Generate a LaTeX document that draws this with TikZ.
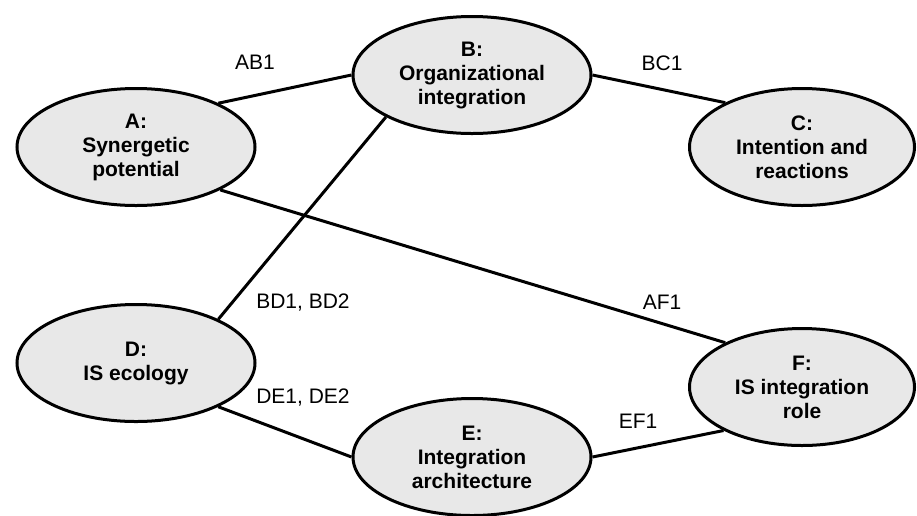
\documentclass[tikz,border=0pt]{standalone}
\usepackage{fontspec}
\setmainfont{Liberation Sans}
\usetikzlibrary{shapes.geometric}
\definecolor{nodefill}{HTML}{E8E8E8}
\begin{document}
\begin{tikzpicture}[x=1pt,y=-1pt,
  bub/.style={ellipse, draw=black, line width=3pt, fill=nodefill,
    minimum width=238pt, minimum height=117pt, inner sep=0pt, align=center,
    font=\fontsize{21}{24}\selectfont\bfseries},
  bubn/.style={bub, minimum width=225pt},
  link/.style={line width=3pt},
  lab/.style={font=\fontsize{21}{24}\selectfont, inner sep=0pt}]
\useasboundingbox (0,0) rectangle (917,515);
\node[bub]  (A) at (136,147) {A:\\Synergetic\\potential};
\node[bub]  (B) at (472,75)  {B:\\Organizational\\integration};
\node[bubn] (C) at (802,147) {C:\\Intention and\\reactions};
\node[bub]  (D) at (136,363) {D:\\IS ecology};
\node[bub]  (E) at (472,457) {E:\\Integration\\architecture};
\node[bubn] (F) at (802,387) {F:\\IS integration\\role};
\draw[link] (A.28) -- (B.180);
\draw[link] (B.0) -- (C.150);
\draw[link] (D.28) -- (B.206);
\draw[link] (A.-27) -- (F.150);
\draw[link] (D.-28) -- (E.180);
\draw[link] (E.0) -- (F.209);
\node[lab] (lAB) at (255,62)  {AB1};
\node[lab] (lBC) at (662,63)  {BC1};
\node[lab] (lBD) at (303,303) {BD1, BD2};
\node[lab] (lDE) at (303,398) {DE1, DE2};
\node[lab] (lAF) at (662,302) {AF1};
\node[lab] (lEF) at (638,421) {EF1};
\end{tikzpicture}
\end{document}
